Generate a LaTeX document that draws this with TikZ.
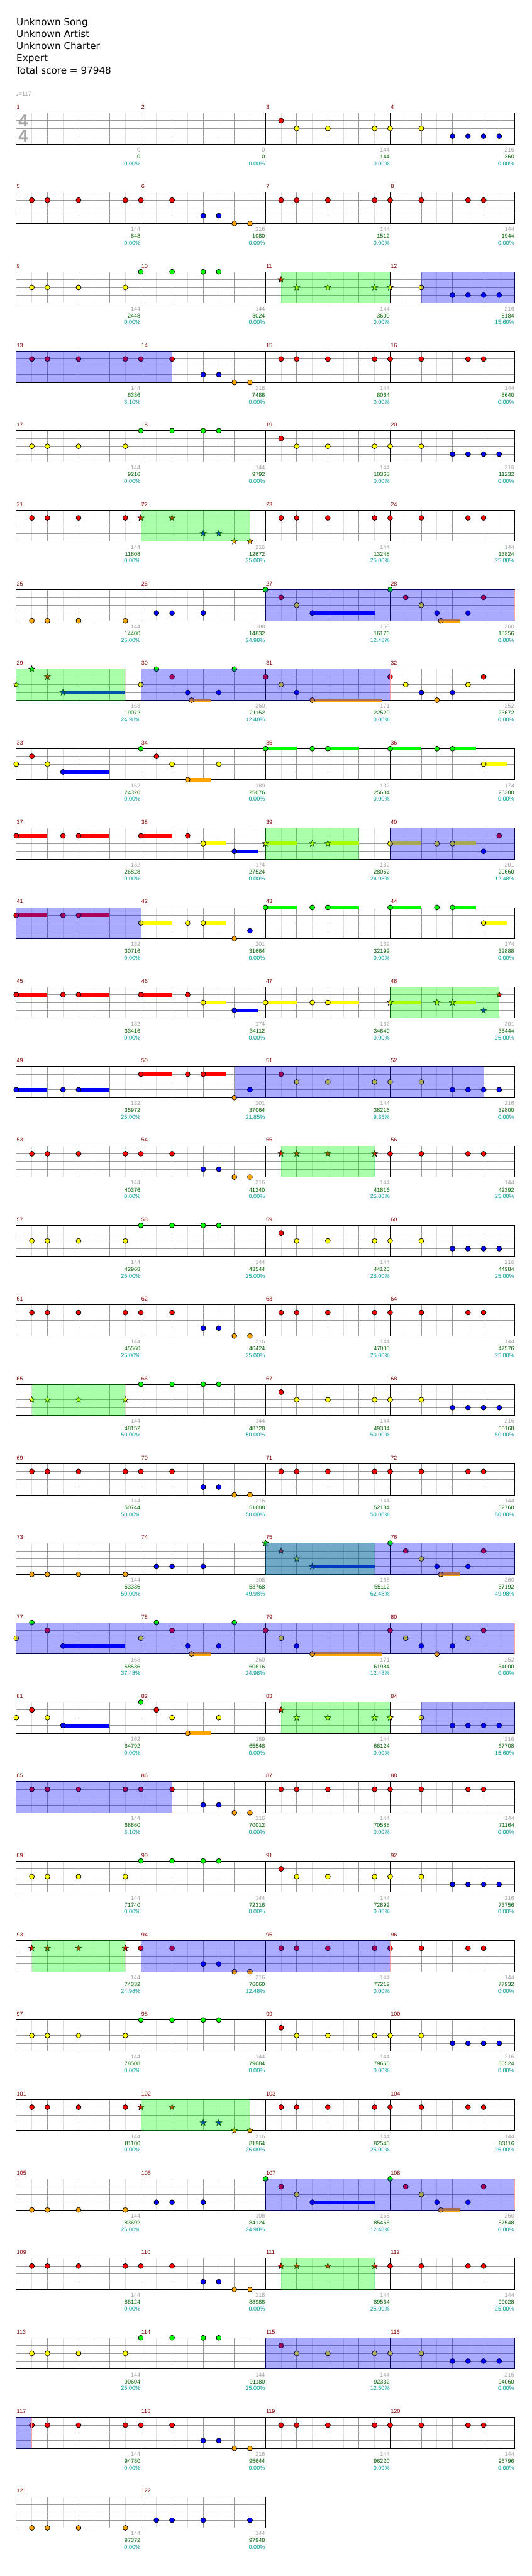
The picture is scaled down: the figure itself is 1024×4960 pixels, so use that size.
\documentclass[tikz,border=0pt]{standalone}
\usepackage{fontspec}
\setmainfont{DejaVu Sans}
\newfontfamily\libfont{Liberation Sans}
\usetikzlibrary{shapes.geometric}
\definecolor{l0}{RGB}{0,255,0}
\definecolor{l1}{RGB}{255,0,0}
\definecolor{l2}{RGB}{255,255,0}
\definecolor{l3}{RGB}{0,0,255}
\definecolor{l4}{RGB}{255,165,0}
\definecolor{mgray}{RGB}{153,153,153}
\definecolor{lgray}{RGB}{221,221,221}
\definecolor{numred}{RGB}{128,0,0}
\definecolor{numgray}{RGB}{160,160,160}
\definecolor{numgreen}{RGB}{0,100,0}
\definecolor{numteal}{RGB}{0,153,153}
\definecolor{endred}{RGB}{255,160,160}
\definecolor{tsgray}{RGB}{165,165,165}
\tikzset{
  smallfont/.style={font=\libfont\fontsize{11}{13}\selectfont},
  mnum/.style={smallfont,anchor=base west,text=numred,inner sep=0pt},
  lg/.style={smallfont,anchor=base east,text=numgray,inner sep=0pt},
  lgr/.style={smallfont,anchor=base east,text=numgreen,inner sep=0pt},
  lt/.style={smallfont,anchor=base east,text=numteal,inner sep=0pt},
  titletext/.style={font=\fontsize{18.4}{22}\selectfont,anchor=base west,inner sep=0pt},
  tsig/.style={font=\libfont\bfseries\fontsize{33}{36}\selectfont,text=tsgray,inner sep=0pt},
  starn/.style={star,star points=5,star point ratio=2.4,minimum size=12.5pt,inner sep=0pt,draw=black,line width=0.7pt},
  notehead/.style={draw=black,line width=0.9pt},
}
\newcommand\mpos[1]{\pgfmathtruncatemacro\mrow{(#1-1)/4}\pgfmathtruncatemacro\mcol{#1-1-4*\mrow}\pgfmathsetmacro\mx{31.3+240*\mcol}\pgfmathsetmacro\my{217.3+153*\mrow}}
\newcommand\meas[4]{\mpos{#1}%
\begin{scope}[shift={(\mx,\my)}]
\foreach \i in {1,3,5,7}{\draw[lgray] (30*\i,0) -- (30*\i,60);}
\foreach \i in {2,4,6}{\draw[mgray] (30*\i,0) -- (30*\i,60);}
\foreach \j in {15,30,45}{\draw[mgray] (0,\j) -- (240,\j);}
\draw[black] (0,0) rectangle (240,60);
\node[mnum] (mn#1) at (0.5,-7.3) {#1};
\node[lg] (lg#1) at (239.5,75) {#2};
\node[lgr] (lr#1) at (239.5,88.4) {#3};
\node[lt] (lt#1) at (239.5,101.4) {#4};
\end{scope}}
\newcommand\nt[3]{\mpos{#1}\filldraw[notehead,fill=l#3] (\mx+30*#2,\my+15*#3) circle[radius=4.8];}
\newcommand\st[3]{\mpos{#1}\node[starn,fill=l#3] at (\mx+30*#2,\my+15*#3) {};}
\newcommand\susbar[4]{\mpos{#1}\fill[l#3] (\mx+30*#2,\my+15*#3-3.5) rectangle (\mx+30*#4,\my+15*#3+3.5);}
\newcommand\snt[4]{\susbar{#1}{#2}{#3}{#4}\nt{#1}{#2}{#3}}
\newcommand\sst[4]{\susbar{#1}{#2}{#3}{#4}\st{#1}{#2}{#3}}
\newcommand\nts[3]{\foreach \pp in {#3}{\nt{#1}{\pp}{#2}}}
\newcommand\sts[3]{\foreach \pp in {#3}{\st{#1}{\pp}{#2}}}
\newcommand\ovg[3]{\mpos{#1}\fill[l0,opacity=0.333] (\mx+30*#2,\my-0.5) rectangle (\mx+30*#3,\my+60.5);}
\newcommand\ovb[3]{\mpos{#1}\fill[l3,opacity=0.333] (\mx+30*#2,\my-0.5) rectangle (\mx+30*#3,\my+60.5);}
\newcommand\aend[2]{\mpos{#1}\draw[endred,line width=1.2pt] (\mx+30*#2,\my) -- (\mx+30*#2,\my+60);}
% repeated phrases
\newcommand\patA[1]{\nt{#1}{1}{1}\nts{#1}{2}{2,4,7}\nts{#1+1}{2}{0,2}\nts{#1+1}{3}{4,5,6,7}}
\newcommand\patB[1]{\nts{#1}{1}{1,2,4,7}\nts{#1+1}{1}{0,2}\nts{#1+1}{3}{4,5}\nts{#1+1}{4}{6,7}}
\newcommand\patR[1]{\nts{#1}{1}{1,2,4,7}\nts{#1+1}{1}{0,2,5,6}}
\newcommand\patY[1]{\nts{#1}{2}{1,2,4,7}\nts{#1+1}{0}{0,2,4,5}}
\newcommand\patO[1]{\nts{#1}{4}{1,2,4,7}\nts{#1+1}{3}{1,2,4}}
\newcommand\vonea[1]{\nt{#1}{0}{0}\nt{#1}{1}{1}\nt{#1}{2}{2}\snt{#1}{3}{3}{7}}
\newcommand\voneb[1]{\nt{#1}{0}{0}\nt{#1}{1}{1}\nt{#1}{2}{2}\nt{#1}{3}{3}\snt{#1}{3.25}{4}{4.5}\nt{#1}{5}{3}\nt{#1}{6}{1}}
\newcommand\vtwoa[1]{\nt{#1}{0}{2}\nt{#1}{1}{0}\nt{#1}{2}{1}\snt{#1}{3}{3}{7}}
\newcommand\vtwob[1]{\nt{#1}{0}{2}\nt{#1}{1}{0}\nt{#1}{2}{1}\nt{#1}{3}{3}\snt{#1}{3.25}{4}{4.5}\nt{#1}{5}{3}\nt{#1}{6}{0}}
\newcommand\vthreea[1]{\nt{#1}{0}{1}\nt{#1}{1}{2}\nt{#1}{2}{3}\snt{#1}{3}{4}{7.5}}
\newcommand\vthreeb[1]{\nt{#1}{0}{1}\nt{#1}{1}{2}\nt{#1}{2}{3}\nt{#1}{3}{4}\nt{#1}{4}{3}\nt{#1}{5}{2}\nt{#1}{6}{1}}
\newcommand\vfoura[1]{\nt{#1}{0}{2}\nt{#1}{1}{1}\nt{#1}{2}{2}\snt{#1}{3}{3}{6}}
\newcommand\vfourb[1]{\nt{#1}{0}{0}\nt{#1}{1}{1}\nt{#1}{2}{2}\snt{#1}{3}{4}{4.5}\nt{#1}{5}{2}}
\begin{document}
\begin{tikzpicture}[x=1pt,y=-1pt,line width=1pt]
\useasboundingbox (0,0) rectangle (1024,4960);
\fill[white] (0,0) rectangle (1024,4960);
% header
\node[titletext] (t1) at (31.2,49.3) {Unknown Song};
\node[titletext] (t2) at (31.2,72.3) {Unknown Artist};
\node[titletext] (t3) at (31.2,95.3) {Unknown Charter};
\node[titletext] (t4) at (31.2,118.3) {Expert};
\node[titletext] (t5) at (29.8,141.7) {Total score = 97948};
\node[anchor=base west,inner sep=0pt,text=numgray,font=\fontsize{11}{13}\selectfont] (tempo) at (30.5,184.3) {♩\libfont=117};
% measures
\meas{1}{0}{0}{0.00\%}
\meas{2}{0}{0}{0.00\%}
\meas{3}{144}{144}{0.00\%}
\meas{4}{216}{360}{0.00\%}
\meas{5}{144}{648}{0.00\%}
\meas{6}{216}{1080}{0.00\%}
\meas{7}{144}{1512}{0.00\%}
\meas{8}{144}{1944}{0.00\%}
\meas{9}{144}{2448}{0.00\%}
\meas{10}{144}{3024}{0.00\%}
\meas{11}{144}{3600}{0.00\%}
\meas{12}{216}{5184}{15.60\%}
\meas{13}{144}{6336}{3.10\%}
\meas{14}{216}{7488}{0.00\%}
\meas{15}{144}{8064}{0.00\%}
\meas{16}{144}{8640}{0.00\%}
\meas{17}{144}{9216}{0.00\%}
\meas{18}{144}{9792}{0.00\%}
\meas{19}{144}{10368}{0.00\%}
\meas{20}{216}{11232}{0.00\%}
\meas{21}{144}{11808}{0.00\%}
\meas{22}{216}{12672}{25.00\%}
\meas{23}{144}{13248}{25.00\%}
\meas{24}{144}{13824}{25.00\%}
\meas{25}{144}{14400}{25.00\%}
\meas{26}{108}{14832}{24.98\%}
\meas{27}{168}{16176}{12.48\%}
\meas{28}{260}{18256}{0.00\%}
\meas{29}{168}{19072}{24.98\%}
\meas{30}{260}{21152}{12.48\%}
\meas{31}{171}{22520}{0.00\%}
\meas{32}{252}{23672}{0.00\%}
\meas{33}{162}{24320}{0.00\%}
\meas{34}{189}{25076}{0.00\%}
\meas{35}{132}{25604}{0.00\%}
\meas{36}{174}{26300}{0.00\%}
\meas{37}{132}{26828}{0.00\%}
\meas{38}{174}{27524}{0.00\%}
\meas{39}{132}{28052}{24.98\%}
\meas{40}{201}{29660}{12.48\%}
\meas{41}{132}{30716}{0.00\%}
\meas{42}{201}{31664}{0.00\%}
\meas{43}{132}{32192}{0.00\%}
\meas{44}{174}{32888}{0.00\%}
\meas{45}{132}{33416}{0.00\%}
\meas{46}{174}{34112}{0.00\%}
\meas{47}{132}{34640}{0.00\%}
\meas{48}{201}{35444}{25.00\%}
\meas{49}{132}{35972}{25.00\%}
\meas{50}{201}{37064}{21.85\%}
\meas{51}{144}{38216}{9.35\%}
\meas{52}{216}{39800}{0.00\%}
\meas{53}{144}{40376}{0.00\%}
\meas{54}{216}{41240}{0.00\%}
\meas{55}{144}{41816}{25.00\%}
\meas{56}{144}{42392}{25.00\%}
\meas{57}{144}{42968}{25.00\%}
\meas{58}{144}{43544}{25.00\%}
\meas{59}{144}{44120}{25.00\%}
\meas{60}{216}{44984}{25.00\%}
\meas{61}{144}{45560}{25.00\%}
\meas{62}{216}{46424}{25.00\%}
\meas{63}{144}{47000}{25.00\%}
\meas{64}{144}{47576}{25.00\%}
\meas{65}{144}{48152}{50.00\%}
\meas{66}{144}{48728}{50.00\%}
\meas{67}{144}{49304}{50.00\%}
\meas{68}{216}{50168}{50.00\%}
\meas{69}{144}{50744}{50.00\%}
\meas{70}{216}{51608}{50.00\%}
\meas{71}{144}{52184}{50.00\%}
\meas{72}{144}{52760}{50.00\%}
\meas{73}{144}{53336}{50.00\%}
\meas{74}{108}{53768}{49.98\%}
\meas{75}{168}{55112}{62.48\%}
\meas{76}{260}{57192}{49.98\%}
\meas{77}{168}{58536}{37.48\%}
\meas{78}{260}{60616}{24.98\%}
\meas{79}{171}{61984}{12.48\%}
\meas{80}{252}{64000}{0.00\%}
\meas{81}{162}{64792}{0.00\%}
\meas{82}{189}{65548}{0.00\%}
\meas{83}{144}{66124}{0.00\%}
\meas{84}{216}{67708}{15.60\%}
\meas{85}{144}{68860}{3.10\%}
\meas{86}{216}{70012}{0.00\%}
\meas{87}{144}{70588}{0.00\%}
\meas{88}{144}{71164}{0.00\%}
\meas{89}{144}{71740}{0.00\%}
\meas{90}{144}{72316}{0.00\%}
\meas{91}{144}{72892}{0.00\%}
\meas{92}{216}{73756}{0.00\%}
\meas{93}{144}{74332}{24.98\%}
\meas{94}{216}{76060}{12.48\%}
\meas{95}{144}{77212}{0.00\%}
\meas{96}{144}{77932}{0.00\%}
\meas{97}{144}{78508}{0.00\%}
\meas{98}{144}{79084}{0.00\%}
\meas{99}{144}{79660}{0.00\%}
\meas{100}{216}{80524}{0.00\%}
\meas{101}{144}{81100}{0.00\%}
\meas{102}{216}{81964}{25.00\%}
\meas{103}{144}{82540}{25.00\%}
\meas{104}{144}{83116}{25.00\%}
\meas{105}{144}{83692}{25.00\%}
\meas{106}{108}{84124}{24.98\%}
\meas{107}{168}{85468}{12.48\%}
\meas{108}{260}{87548}{0.00\%}
\meas{109}{144}{88124}{0.00\%}
\meas{110}{216}{88988}{0.00\%}
\meas{111}{144}{89564}{25.00\%}
\meas{112}{144}{90028}{25.00\%}
\meas{113}{144}{90604}{25.00\%}
\meas{114}{144}{91180}{25.00\%}
\meas{115}{144}{92332}{12.50\%}
\meas{116}{216}{94060}{0.00\%}
\meas{117}{144}{94780}{0.00\%}
\meas{118}{216}{95644}{0.00\%}
\meas{119}{144}{96220}{0.00\%}
\meas{120}{144}{96796}{0.00\%}
\meas{121}{144}{97372}{0.00\%}
\meas{122}{144}{97948}{0.00\%}
% time signature
\node[tsig] (ts1) at (44.8,233) {4};
\node[tsig] (ts2) at (44.8,262) {4};
% notes, first part
\patA{3}
\patB{5}
\patR{7}
\patY{9}
\st{11}{1}{1}\sts{11}{2}{2,4,7}\st{12}{0}{2}\nt{12}{2}{2}\nts{12}{3}{4,5,6,7}
\patB{13}
\patR{15}
\patY{17}
\patA{19}
\nts{21}{1}{1,2,4,7}\sts{22}{1}{0,2}\sts{22}{3}{4,5}\sts{22}{4}{6,7}
\patR{23}
\patO{25}
\vonea{27}\voneb{28}
\st{29}{0}{2}\st{29}{1}{0}\st{29}{2}{1}\sst{29}{3}{3}{7}
\vtwob{30}
\vthreea{31}\vthreeb{32}
\vfoura{33}\vfourb{34}
\snt{35}{0}{0}{2}\nt{35}{3}{0}\snt{35}{4}{0}{6}
\snt{36}{0}{0}{2}\nt{36}{3}{0}\snt{36}{4}{0}{5.5}\snt{36}{6}{2}{7.5}
\snt{37}{0}{1}{2}\nt{37}{3}{1}\snt{37}{4}{1}{6}
\snt{38}{0}{1}{2}\nt{38}{3}{1}\snt{38}{4}{2}{5.5}\snt{38}{6}{3}{7.5}
\sst{39}{0}{2}{2}\st{39}{3}{2}\sst{39}{4}{2}{6}
\snt{40}{0}{2}{2}\nt{40}{3}{2}\snt{40}{4}{2}{5.5}\nt{40}{6}{3}\nt{40}{7}{1}
\snt{41}{0}{1}{2}\nt{41}{3}{1}\snt{41}{4}{1}{6}
\snt{42}{0}{2}{2}\nt{42}{3}{2}\snt{42}{4}{2}{5.5}\nt{42}{6}{4}\nt{42}{7}{3}
\snt{43}{0}{0}{2}\nt{43}{3}{0}\snt{43}{4}{0}{6}
\snt{44}{0}{0}{2}\nt{44}{3}{0}\snt{44}{4}{0}{5.5}\snt{44}{6}{2}{7.5}
\snt{45}{0}{1}{2}\nt{45}{3}{1}\snt{45}{4}{1}{6}
\snt{46}{0}{1}{2}\nt{46}{3}{1}\snt{46}{4}{2}{5.5}\snt{46}{6}{3}{7.5}
\snt{47}{0}{2}{2}\nt{47}{3}{2}\snt{47}{4}{2}{6}
\sst{48}{0}{2}{2}\st{48}{3}{2}\sst{48}{4}{2}{5.5}\st{48}{6}{3}\st{48}{7}{1}
\snt{49}{0}{3}{2}\nt{49}{3}{3}\snt{49}{4}{3}{6}
\snt{50}{0}{1}{2}\nt{50}{3}{1}\snt{50}{4}{1}{5.5}\nt{50}{6}{4}\nt{50}{7}{3}
\patA{51}
% second part
\patB{53}
\sts{55}{1}{1,2,4,7}\nts{56}{1}{0,2,5,6}
\patY{57}
\patA{59}
\patB{61}
\patR{63}
\sts{65}{2}{1,2,4,7}\nts{66}{0}{0,2,4,5}
\patA{67}
\patB{69}
\patR{71}
\patO{73}
\st{75}{0}{0}\st{75}{1}{1}\st{75}{2}{2}\sst{75}{3}{3}{7}\voneb{76}
\vtwoa{77}\vtwob{78}
\vthreea{79}\vthreeb{80}
\vfoura{81}\vfourb{82}
\st{83}{1}{1}\sts{83}{2}{2,4,7}\st{84}{0}{2}\nt{84}{2}{2}\nts{84}{3}{4,5,6,7}
\patB{85}
\patR{87}
\patY{89}
\patA{91}
\sts{93}{1}{1,2,4,7}\nts{94}{1}{0,2}\nts{94}{3}{4,5}\nts{94}{4}{6,7}
\patR{95}
\patY{97}
\patA{99}
\nts{101}{1}{1,2,4,7}\sts{102}{1}{0,2}\sts{102}{3}{4,5}\sts{102}{4}{6,7}
\patR{103}
\patO{105}
\vonea{107}\voneb{108}
\patB{109}
\sts{111}{1}{1,2,4,7}\nts{112}{1}{0,2,5,6}
\patY{113}
\patA{115}
\patB{117}
\patR{119}
\nts{121}{4}{1,2,4,7}\nts{122}{3}{1,2,4,7}
% star power phrases
\ovg{11}{1}{8}
\ovg{22}{0}{7}
\ovg{29}{0}{7}
\ovg{39}{0}{6}
\ovg{48}{0}{7}
\ovg{55}{1}{7}
\ovg{65}{1}{7}
\ovg{75}{0}{7}
\ovg{83}{1}{8}
\ovg{93}{1}{7}
\ovg{102}{0}{7}
\ovg{111}{1}{7}
% star power activations
\ovb{12}{2}{8}\ovb{13}{0}{10}\aend{14}{2}
\ovb{27}{0}{16}\aend{28}{8}
\ovb{30}{0}{16}\aend{32}{0}
\ovb{40}{0}{8}\ovb{41}{0}{8}\aend{42}{0}
\ovb{50}{6}{22}\aend{52}{6}
\ovb{75}{0}{16}\ovb{77}{0}{32}\aend{80}{8}
\ovb{84}{2}{8}\ovb{85}{0}{10}\aend{86}{2}
\ovb{94}{0}{16}\aend{96}{0}
\ovb{107}{0}{16}\aend{108}{8}
\ovb{115}{0}{16}\ovb{117}{0}{1}\aend{117}{1}
\end{tikzpicture}
\end{document}
